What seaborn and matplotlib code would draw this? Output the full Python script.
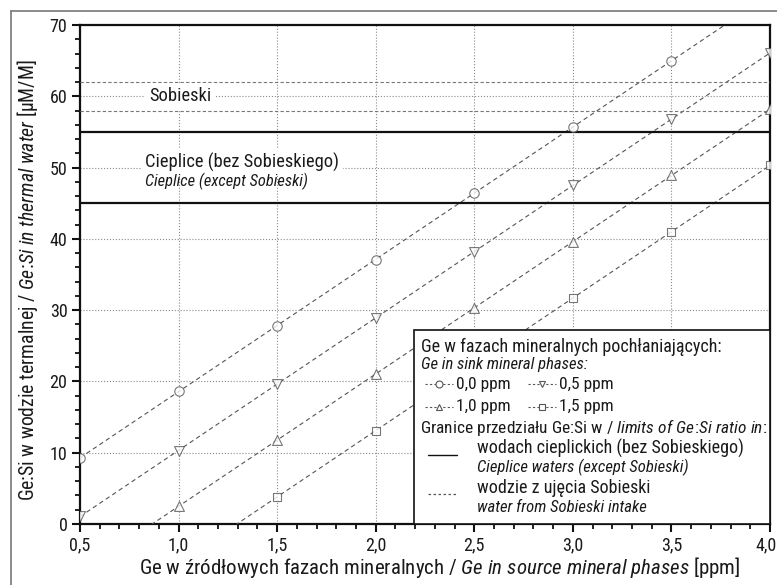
import numpy as np
import pandas as pd
import seaborn as sns
import matplotlib.pyplot as plt
from matplotlib import font_manager as fm
from matplotlib.lines import Line2D
from matplotlib.patches import Rectangle
from matplotlib.ticker import MultipleLocator, FuncFormatter
from matplotlib.transforms import ScaledTranslation

# Ge in source phases [ppm] and Ge:Si in thermal water for each sink-phase Ge content
ge_source = [0.5, 1.0, 1.5, 2.0, 2.5, 3.0, 3.5, 4.0]
ratio_00 = [9.3, 18.6, 27.8, 37.1, 46.4, 55.7, 65.0, np.nan]
ratio_05 = [1.1, 10.3, 19.6, 28.9, 38.2, 47.5, 56.8, 66.1]
ratio_10 = [np.nan, 2.5, 11.8, 21.0, 30.3, 39.6, 48.9, 58.2]
ratio_15 = [np.nan, np.nan, 3.8, 13.1, 22.4, 31.7, 41.0, 50.3]
sink_labels = ['0,0 ppm', '0,5 ppm', '1,0 ppm', '1,5 ppm']
sink_markers = ['o', 'v', '^', 's']

cieplice_limits = [45, 55]
sobieski_limits = [58, 62]

sns.set_style('white')
installed = {f.name for f in fm.fontManager.ttflist}
fam = 'DejaVu Sans'
for cand in ['Liberation Sans Narrow', 'Roboto Condensed', 'Liberation Sans', 'Roboto']:
    if cand in installed:
        fam = cand
        break
plt.rcParams['font.family'] = [fam, 'DejaVu Sans']
plt.rcParams['mathtext.fontset'] = 'custom'
plt.rcParams['mathtext.rm'] = fam
plt.rcParams['mathtext.it'] = fam + ':italic'
TXT = '#1a1a1a'
GRAY = '#555555'

df = pd.DataFrame({'src': ge_source, '0,0 ppm': ratio_00, '0,5 ppm': ratio_05,
                   '1,0 ppm': ratio_10, '1,5 ppm': ratio_15})

fig = plt.figure(figsize=(7.77, 5.85), dpi=100)
ax = fig.add_axes([80 / 777, 1 - 524 / 585, 690 / 777, 499 / 585])
ax.set_xlim(0.5, 4.0)
ax.set_ylim(0, 70)

sizes = {'o': 46, 'v': 50, '^': 50, 's': 34}
for lab, mk in zip(sink_labels, sink_markers):
    sns.regplot(data=df, x='src', y=lab, ax=ax, ci=None, truncate=False,
                marker=mk, color=GRAY,
                scatter_kws=dict(facecolors='white', edgecolors=GRAY, s=sizes[mk],
                                 linewidths=0.8, zorder=4),
                line_kws=dict(ls=(0, (4, 3)), lw=0.8, zorder=3))
ax.set_xlim(0.5, 4.0)
ax.set_ylim(0, 70)

for y in cieplice_limits:
    ax.axhline(y, color='#111111', lw=1.6, zorder=3)
for y in sobieski_limits:
    ax.axhline(y, color='#777777', lw=0.8, ls=(0, (3, 2)), zorder=3)

ax.grid(True, which='major', color='#8a8a8a', ls=':', lw=0.8)
ax.set_axisbelow(True)
ax.xaxis.set_major_locator(MultipleLocator(0.5))
ax.xaxis.set_minor_locator(MultipleLocator(0.1))
ax.yaxis.set_major_locator(MultipleLocator(10))
ax.yaxis.set_minor_locator(MultipleLocator(2))
ax.xaxis.set_major_formatter(FuncFormatter(lambda v, p: f'{v:.1f}'.replace('.', ',')))
ax.tick_params(which='major', direction='out', length=6, width=1.5, color='#111111',
               labelsize=13, labelcolor=TXT, pad=3, bottom=True, left=True)
ax.tick_params(which='minor', direction='out', length=3.5, width=1.3, color='#111111',
               bottom=True, left=True)
for s in ax.spines.values():
    s.set_linewidth(1.6)
    s.set_color('#111111')

# nudge the last x tick label so it stays inside the figure
fig.canvas.draw()
last = [t for t in ax.get_xticklabels() if t.get_text() == '4,0']
for t in last:
    t.set_transform(t.get_transform() + ScaledTranslation(-4 / 100, 0, fig.dpi_scale_trans))

ax.set_xlabel('Ge w źródłowych fazach mineralnych / $\\mathit{Ge\\ in\\ source\\ mineral\\ phases}$ [ppm]',
              fontsize=15, color=TXT)
ax.set_ylabel('Ge:Si w wodzie termalnej / $\\mathit{Ge\\!:\\!Si\\ in\\ thermal\\ water}$ [µM/M]',
              fontsize=14.2, color=TXT)
ax.xaxis.set_label_coords(0.522, -0.062)
ax.yaxis.set_label_coords(-0.058, 0.489)

ax.text(1.01, 60, 'Sobieski', fontsize=13.3, color=TXT, ha='center', va='center',
        bbox=dict(fc='white', ec='none', pad=3), zorder=3.5)
ax.text(0.83, 50.7, 'Cieplice (bez Sobieskiego)', fontsize=13.3, color=TXT, ha='left',
        va='center', bbox=dict(fc='white', ec='none', pad=3), zorder=2)
ax.text(0.83, 48.0, 'Cieplice (except Sobieski)', fontsize=11.8, color=TXT, ha='left',
        va='center', style='italic', zorder=2)


# legend box, positions in pixels converted to axes fraction
def px(x, y):
    return (x - 80) / 690, (524 - y) / 499


lx0, ly0 = px(414, 330)
ax.add_patch(Rectangle((lx0, 0), 1 - lx0, ly0, transform=ax.transAxes, fc='white',
                       ec='#111111', lw=1.2, zorder=5))


def ltext(x, y, s, **kw):
    kw.setdefault('fontsize', 13)
    ax.text(*px(x, y), s, transform=ax.transAxes, color=TXT, ha='left', va='center',
            zorder=6, **kw)


def lsample(x0, x1, y, ls, marker=None, lw=0.8, color=GRAY):
    a = px(x0, y)
    b = px(x1, y)
    xs = [a[0], (a[0] + b[0]) / 2, b[0]]
    ax.add_line(Line2D(xs, [a[1]] * 3, transform=ax.transAxes, ls=ls, lw=lw, color=color,
                       marker=marker, markevery=[1], ms=5, mfc='white', mec=color,
                       mew=0.8, zorder=6))


ltext(421, 347, 'Ge w fazach mineralnych pochłaniających:')
ltext(421, 364, 'Ge in sink mineral phases:', fontsize=12, style='italic')
rows = [(384, 0), (384, 1), (407, 2), (407, 3)]
for (yy, i), col in zip(rows, [0, 1, 0, 1]):
    x0 = 425 if col == 0 else 528
    lsample(x0, x0 + 28, yy, (0, (2, 2)), marker=sink_markers[i])
    ltext(x0 + 31, yy, sink_labels[i], fontsize=12.5)
ltext(420, 428, 'Granice przedziału Ge:Si w / $\\mathit{limits\\ of\\ Ge\\!:\\!Si\\ ratio\\ in}$:',
      fontsize=12.5)
lsample(428, 457, 455, '-', lw=1.0, color='#111111')
ltext(477, 448, 'wodach cieplickich (bez Sobieskiego)')
ltext(477, 467, 'Cieplice waters (except Sobieski)', fontsize=12, style='italic')
lsample(428, 457, 494, (0, (2, 2)), lw=0.9)
ltext(477, 488, 'wodzie z ujęcia Sobieski')
ltext(477, 507, 'water from Sobieski intake', fontsize=12, style='italic')

# thin frame around the figure (left and top edges)
fig.add_artist(Line2D([11 / 777, 11 / 777], [0, 1 - 11 / 585], color='#777777', lw=1.2))
fig.add_artist(Line2D([11 / 777, 1], [1 - 11 / 585, 1 - 11 / 585], color='#777777', lw=1.2))

fig.savefig('out.png', dpi=100)
